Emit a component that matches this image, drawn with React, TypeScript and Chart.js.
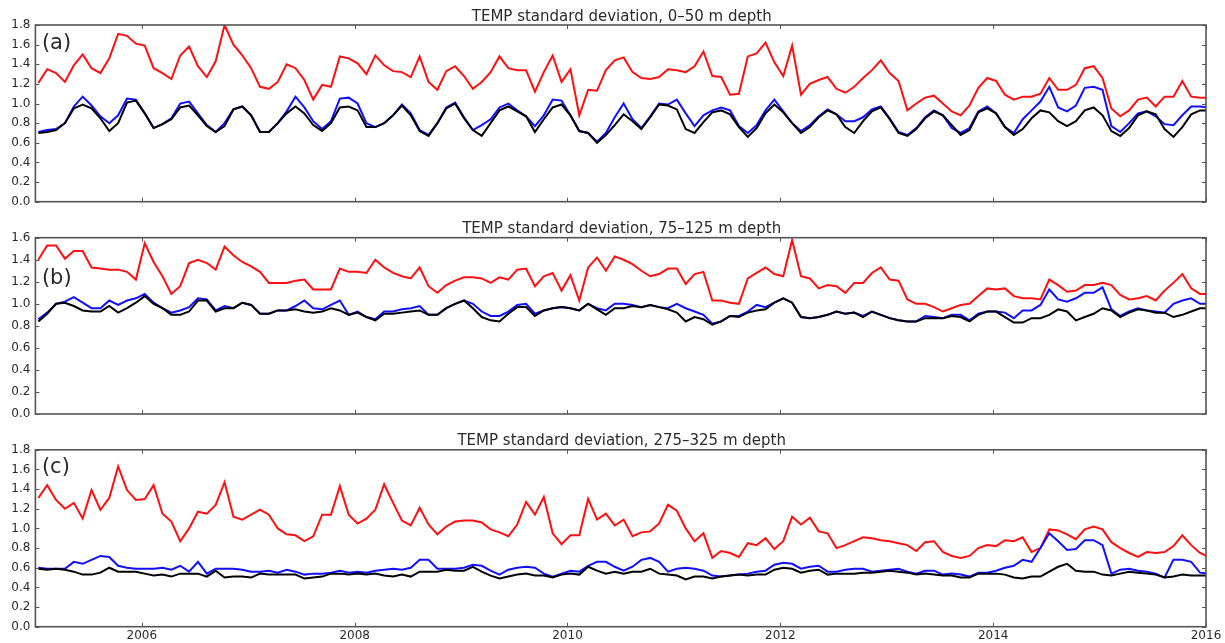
import React, { useEffect, useRef } from "react";
import { Chart, registerables } from "chart.js";

Chart.register(...registerables);

// ---------- data ----------
const START_YEAR = 2005;
const END_YEAR = 2016;
const monthIndex: number[] = Array.from({ length: 133 }, (_, i) => i);
const xTickYears = [2006, 2008, 2010, 2012, 2014, 2016];
const yTicksTall = [0, 0.2, 0.4, 0.6, 0.8, 1.0, 1.2, 1.4, 1.6, 1.8];
const yTicksShort = [0, 0.2, 0.4, 0.6, 0.8, 1.0, 1.2, 1.4, 1.6];

// Panel (a) 0–50 m
const redA = [
  1.21, 1.35, 1.31, 1.22, 1.39, 1.50, 1.36, 1.31, 1.46, 1.71,
  1.69, 1.61, 1.59, 1.36, 1.31, 1.25, 1.49, 1.58, 1.38, 1.27,
  1.43, 1.80, 1.60, 1.49, 1.36, 1.17, 1.15, 1.22, 1.40, 1.36,
  1.24, 1.04, 1.19, 1.17, 1.48, 1.46, 1.41, 1.30, 1.49, 1.39,
  1.33, 1.32, 1.27, 1.48,
  1.22, 1.14, 1.33, 1.38, 1.28, 1.15, 1.22, 1.32, 1.48, 1.36,
  1.34, 1.34, 1.12, 1.32, 1.49, 1.22, 1.35, 0.88, 1.14, 1.13,
  1.34, 1.44, 1.47, 1.32, 1.26, 1.25, 1.27, 1.35, 1.34, 1.32,
  1.38, 1.53, 1.28, 1.27, 1.09, 1.10, 1.48, 1.51, 1.62, 1.42,
  1.28, 1.59, 1.09, 1.20, 1.24,
  1.27, 1.15, 1.11, 1.17, 1.26, 1.34, 1.44, 1.31, 1.23, 0.93,
  1.00, 1.06, 1.08, 1.00, 0.92, 0.88, 0.98, 1.16, 1.26, 1.23,
  1.09, 1.04, 1.07, 1.07, 1.10, 1.26, 1.14, 1.14, 1.19, 1.36,
  1.38, 1.26, 0.95, 0.87, 0.93, 1.04, 1.06, 0.97, 1.07, 1.07,
  1.23, 1.07, 1.06, 1.06,
];
const blueA = [
  0.71, 0.73, 0.74, 0.80, 0.97, 1.07, 0.98, 0.87, 0.80, 0.88,
  1.05, 1.04, 0.90, 0.75, 0.79, 0.85, 1.00, 1.02, 0.90, 0.78,
  0.71, 0.80, 0.94, 0.97, 0.88, 0.71, 0.71, 0.80, 0.92, 1.07,
  0.96, 0.82, 0.74, 0.82, 1.05, 1.06, 1.00, 0.80, 0.76, 0.80,
  0.88, 0.99, 0.90, 0.73,
  0.68, 0.80, 0.96, 1.01, 0.86, 0.73, 0.78, 0.84, 0.96, 1.00,
  0.93, 0.87, 0.77, 0.88, 1.04, 1.03, 0.88, 0.72, 0.70, 0.61,
  0.70, 0.86, 1.00, 0.84, 0.75, 0.87, 1.00, 0.99, 1.04, 0.90,
  0.77, 0.88, 0.93, 0.96, 0.93, 0.77, 0.70, 0.78, 0.93, 1.04,
  0.92, 0.80, 0.72,
  0.78, 0.87, 0.94, 0.89, 0.82, 0.82, 0.86, 0.94, 0.97, 0.85,
  0.71, 0.68, 0.75, 0.86, 0.93, 0.88, 0.75, 0.70, 0.75, 0.92,
  0.97, 0.90, 0.76, 0.70, 0.84, 0.93, 1.02, 1.17, 0.96, 0.92,
  0.98, 1.16, 1.17, 1.14, 0.77, 0.71, 0.80, 0.90, 0.92, 0.87,
  0.79, 0.78, 0.88, 0.97, 0.97, 0.96,
];
const blackA = [
  0.70, 0.71, 0.73, 0.80, 0.95, 0.99, 0.95, 0.85, 0.72, 0.80,
  1.01, 1.03, 0.90, 0.75, 0.79, 0.84, 0.96, 0.98, 0.88, 0.77,
  0.71, 0.77, 0.94, 0.97, 0.88, 0.71, 0.71, 0.80, 0.90, 0.97,
  0.90, 0.78, 0.72, 0.80, 0.96, 0.97, 0.93, 0.76, 0.76, 0.80,
  0.88, 0.98, 0.88, 0.72,
  0.67, 0.80, 0.95, 1.00, 0.85, 0.73, 0.67, 0.80, 0.93, 0.97,
  0.92, 0.87, 0.71, 0.84, 0.96, 0.99, 0.88, 0.72, 0.70, 0.60,
  0.68, 0.78, 0.89, 0.82, 0.74, 0.86, 0.99, 0.98, 0.94, 0.74,
  0.70, 0.81, 0.91, 0.93, 0.89, 0.76, 0.66, 0.75, 0.90, 0.99,
  0.91, 0.80, 0.70,
  0.76, 0.86, 0.93, 0.89, 0.76, 0.70, 0.82, 0.92, 0.96, 0.84,
  0.70, 0.67, 0.74, 0.85, 0.92, 0.88, 0.78, 0.68, 0.73, 0.91,
  0.95, 0.90, 0.76, 0.68, 0.74, 0.85, 0.93, 0.91, 0.82, 0.77,
  0.82, 0.93, 0.96, 0.88, 0.72, 0.67, 0.75, 0.88, 0.92, 0.89,
  0.74, 0.66, 0.76, 0.89, 0.93, 0.93,
];

// Panel (b) 75–125 m
const redB = [
  1.40, 1.53, 1.53, 1.41, 1.48, 1.48, 1.33, 1.32, 1.31, 1.31,
  1.29, 1.22, 1.55, 1.38, 1.25, 1.09, 1.16, 1.37, 1.40, 1.37,
  1.31, 1.52, 1.44, 1.38, 1.34, 1.29, 1.19, 1.19, 1.19, 1.21,
  1.22, 1.13, 1.13, 1.13, 1.32, 1.29, 1.29, 1.28, 1.40, 1.33,
  1.28, 1.25, 1.23, 1.33,
  1.16, 1.10, 1.17, 1.21, 1.24, 1.24, 1.23, 1.19, 1.24, 1.22,
  1.31, 1.32, 1.16, 1.25, 1.28, 1.12, 1.26, 1.03, 1.33, 1.42,
  1.30, 1.43, 1.40, 1.36, 1.30, 1.25, 1.27, 1.32, 1.32, 1.18,
  1.27, 1.29, 1.03, 1.03, 1.01, 1.00, 1.23, 1.28, 1.33, 1.27,
  1.25, 1.58, 1.25,
  1.23, 1.14, 1.17, 1.16, 1.10, 1.19, 1.19, 1.28, 1.33, 1.22,
  1.21, 1.04, 1.00, 1.00, 0.97, 0.93, 0.96, 0.99, 1.00, 1.07,
  1.14, 1.13, 1.14, 1.07, 1.05, 1.05, 1.04, 1.22, 1.17, 1.11,
  1.12, 1.17, 1.17, 1.19, 1.17, 1.08, 1.04, 1.05, 1.07, 1.03,
  1.12, 1.19, 1.27, 1.14, 1.09, 1.09,
];
const blueB = [
  0.86, 0.92, 1.00, 1.02, 1.06, 1.01, 0.96, 0.96, 1.03, 0.99,
  1.03, 1.05, 1.09, 1.01, 0.96, 0.92, 0.94, 0.97, 1.05, 1.04,
  0.94, 0.98, 0.96, 1.01, 0.99, 0.91, 0.91, 0.94, 0.94, 0.98,
  1.03, 0.96, 0.95, 0.99, 1.03, 0.90, 0.93, 0.88, 0.86, 0.93,
  0.93, 0.95, 0.96, 0.98,
  0.90, 0.90, 0.96, 1.00, 1.03, 1.00, 0.93, 0.89, 0.89, 0.93,
  0.99, 1.00, 0.91, 0.94, 0.96, 0.97, 0.96, 0.94, 1.00, 0.96,
  0.94, 1.00, 1.00, 0.99, 0.97, 0.99, 0.97, 0.96, 1.00, 0.96,
  0.93, 0.90, 0.82, 0.84, 0.89, 0.89, 0.93, 0.99, 0.97, 1.01,
  1.05, 1.01, 0.88,
  0.87, 0.88, 0.90, 0.93, 0.91, 0.92, 0.89, 0.93, 0.90, 0.87,
  0.85, 0.84, 0.84, 0.89, 0.88, 0.87, 0.90, 0.90, 0.85, 0.91,
  0.93, 0.93, 0.92, 0.87, 0.94, 0.94, 0.99, 1.13, 1.04, 1.02,
  1.05, 1.10, 1.10, 1.15, 0.95, 0.89, 0.93, 0.96, 0.94, 0.93,
  0.92, 1.00, 1.03, 1.05, 1.00, 1.00,
];
const blackB = [
  0.84, 0.91, 1.00, 1.01, 0.98, 0.94, 0.93, 0.93, 0.98, 0.92,
  0.96, 1.01, 1.07, 1.00, 0.96, 0.90, 0.90, 0.93, 1.03, 1.03,
  0.93, 0.96, 0.96, 1.01, 0.99, 0.91, 0.91, 0.94, 0.94, 0.95,
  0.93, 0.92, 0.93, 0.96, 0.94, 0.90, 0.92, 0.88, 0.85, 0.91,
  0.91, 0.92, 0.93, 0.94,
  0.90, 0.90, 0.96, 1.00, 1.03, 0.96, 0.88, 0.85, 0.84, 0.91,
  0.97, 0.97, 0.89, 0.94, 0.96, 0.97, 0.96, 0.94, 1.00, 0.95,
  0.90, 0.96, 0.96, 0.98, 0.97, 0.99, 0.97, 0.95, 0.92, 0.84,
  0.88, 0.86, 0.81, 0.84, 0.89, 0.88, 0.92, 0.94, 0.95, 1.01,
  1.05, 1.01, 0.88,
  0.87, 0.88, 0.90, 0.93, 0.91, 0.92, 0.88, 0.93, 0.90, 0.87,
  0.85, 0.84, 0.84, 0.87, 0.87, 0.87, 0.89, 0.88, 0.84, 0.90,
  0.93, 0.93, 0.88, 0.83, 0.83, 0.87, 0.87, 0.90, 0.95, 0.93,
  0.85, 0.88, 0.91, 0.96, 0.94, 0.88, 0.92, 0.95, 0.94, 0.92,
  0.92, 0.88, 0.90, 0.93, 0.96, 0.96,
];

// Panel (c) 275–325 m
const redC = [
  1.31, 1.44, 1.29, 1.20, 1.26, 1.10, 1.39, 1.19, 1.31, 1.63,
  1.39, 1.29, 1.30, 1.44, 1.15, 1.07, 0.87, 1.00, 1.17, 1.15,
  1.24, 1.47, 1.12, 1.09, 1.14, 1.19, 1.14, 1.00, 0.94, 0.93,
  0.87, 0.92, 1.14, 1.14, 1.43, 1.14, 1.05, 1.10, 1.19, 1.45,
  1.26, 1.08, 1.03, 1.21,
  1.04, 0.94, 1.02, 1.07, 1.08, 1.08, 1.06, 0.99, 0.96, 0.92,
  1.04, 1.27, 1.14, 1.32, 0.95, 0.84, 0.93, 0.93, 1.30, 1.09,
  1.15, 1.03, 1.09, 0.92, 0.96, 0.97, 1.05, 1.24, 1.18, 1.00,
  0.87, 0.95, 0.70, 0.77, 0.75, 0.71, 0.85, 0.83, 0.90, 0.79,
  0.87, 1.12, 1.04,
  1.11, 0.97, 0.95, 0.80, 0.83, 0.87, 0.91, 0.90, 0.88, 0.87,
  0.85, 0.83, 0.77, 0.86, 0.87, 0.76, 0.72, 0.70, 0.72, 0.80,
  0.83, 0.82, 0.88, 0.87, 0.91, 0.76, 0.80, 0.99, 0.98, 0.94,
  0.89, 0.99, 1.02, 0.99, 0.86, 0.80, 0.75, 0.71, 0.76, 0.75,
  0.76, 0.82, 0.93, 0.83, 0.75, 0.71,
];
const blueC = [
  0.60, 0.59, 0.59, 0.59, 0.66, 0.64, 0.68, 0.72, 0.71, 0.62,
  0.60, 0.59, 0.59, 0.59, 0.60, 0.58, 0.62, 0.56, 0.66, 0.54,
  0.59, 0.59, 0.59, 0.58, 0.56, 0.56, 0.57, 0.55, 0.58, 0.56,
  0.53, 0.54, 0.54, 0.55, 0.57, 0.55, 0.56, 0.55, 0.57, 0.58,
  0.59, 0.58, 0.60, 0.68,
  0.68, 0.59, 0.59, 0.59, 0.60, 0.63, 0.62, 0.57, 0.53, 0.58,
  0.60, 0.61, 0.60, 0.54, 0.51, 0.54, 0.57, 0.56, 0.62, 0.66,
  0.66, 0.61, 0.57, 0.61, 0.68, 0.70, 0.66, 0.56, 0.59, 0.60,
  0.59, 0.57, 0.52, 0.51, 0.52, 0.53, 0.54, 0.56, 0.57, 0.63,
  0.65, 0.64, 0.59,
  0.61, 0.62, 0.56, 0.56, 0.58, 0.59, 0.59, 0.56, 0.57, 0.58,
  0.59, 0.56, 0.54, 0.57, 0.57, 0.53, 0.54, 0.53, 0.51, 0.55,
  0.55, 0.57, 0.60, 0.62, 0.68, 0.66, 0.80, 0.95, 0.87, 0.78,
  0.79, 0.88, 0.88, 0.83, 0.54, 0.58, 0.59, 0.57, 0.56, 0.54,
  0.50, 0.68, 0.68, 0.66, 0.55, 0.54,
];
const blackC = [
  0.59, 0.58, 0.59, 0.58, 0.56, 0.53, 0.53, 0.55, 0.60, 0.56,
  0.56, 0.56, 0.54, 0.52, 0.53, 0.51, 0.54, 0.54, 0.54, 0.51,
  0.57, 0.50, 0.51, 0.51, 0.50, 0.54, 0.53, 0.53, 0.53, 0.53,
  0.49, 0.50, 0.51, 0.54, 0.54, 0.53, 0.54, 0.53, 0.54, 0.52,
  0.51, 0.53, 0.51, 0.56,
  0.56, 0.56, 0.58, 0.57, 0.57, 0.61, 0.56, 0.52, 0.49, 0.51,
  0.53, 0.54, 0.52, 0.52, 0.50, 0.53, 0.54, 0.53, 0.61, 0.57,
  0.54, 0.56, 0.54, 0.56, 0.56, 0.59, 0.54, 0.53, 0.52, 0.48,
  0.51, 0.51, 0.49, 0.51, 0.52, 0.53, 0.52, 0.53, 0.53, 0.58,
  0.60, 0.59, 0.55,
  0.57, 0.58, 0.53, 0.54, 0.54, 0.54, 0.55, 0.55, 0.56, 0.57,
  0.56, 0.55, 0.53, 0.54, 0.53, 0.52, 0.52, 0.50, 0.50, 0.54,
  0.54, 0.54, 0.53, 0.50, 0.49, 0.51, 0.51, 0.56, 0.61, 0.64,
  0.57, 0.56, 0.56, 0.53, 0.52, 0.54, 0.56, 0.55, 0.54, 0.53,
  0.50, 0.51, 0.53, 0.52, 0.52, 0.52,
];

const titles = [
  "TEMP standard deviation, 0\u201350 m depth",
  "TEMP standard deviation, 75\u2013125 m depth",
  "TEMP standard deviation, 275\u2013325 m depth",
];
const panelLabels = ["(a)", "(b)", "(c)"];

// ---------- layout / style ----------
const FONT = '"DejaVu Sans", "Liberation Sans", sans-serif';
const TEXT = "#2a2a2a";
const FRAME = "#555555";

type PanelCfg = {
  top: number;
  height: number;
  padTop: number;
  padBottom: number;
  xAxisH: number;
  showX: boolean;
  yMax: number;
  yTicks: number[];
  red: number[];
  blue: number[];
  black: number[];
  title: string;
  label: string;
  labelY: number;
};

const panels: PanelCfg[] = [
  { top: 0, height: 215, padTop: 25, padBottom: 13.3, xAxisH: 0, showX: false, yMax: 1.8, yTicks: yTicksTall, red: redA, blue: blueA, black: blackA, title: titles[0], label: panelLabels[0], labelY: 44 },
  { top: 215, height: 215, padTop: 22.7, padBottom: 16, xAxisH: 0, showX: false, yMax: 1.6, yTicks: yTicksShort, red: redB, blue: blueB, black: blackB, title: titles[1], label: panelLabels[1], labelY: 278.5 - 215 },
  { top: 430, height: 213, padTop: 19.8, padBottom: 0, xAxisH: 16.3, showX: true, yMax: 1.8, yTicks: yTicksTall, red: redC, blue: blueC, black: blackC, title: titles[2], label: panelLabels[2], labelY: 468 - 430 },
];

const decorPlugin = {
  id: "decor",
  afterDraw(chart: any, _args: any, opts: any) {
    const { ctx, chartArea } = chart;
    const { left, right, top, bottom } = chartArea;
    const xs = chart.scales.x;
    const ys = chart.scales.y;
    ctx.save();
    ctx.strokeStyle = FRAME;
    ctx.lineWidth = 1;
    ctx.beginPath();
    for (const t of ys.ticks) {
      const py = Math.round(ys.getPixelForValue(t.value)) + 0.5;
      ctx.moveTo(left, py);
      ctx.lineTo(left + 4, py);
      ctx.moveTo(right, py);
      ctx.lineTo(right - 4, py);
    }
    for (const t of xs.ticks) {
      const px = Math.round(xs.getPixelForValue(t.value)) + 0.5;
      ctx.moveTo(px, top);
      ctx.lineTo(px, top + 4);
      ctx.moveTo(px, bottom);
      ctx.lineTo(px, bottom - 4);
    }
    ctx.stroke();
    ctx.lineWidth = 1.6;
    ctx.strokeRect(left, top, right - left, bottom - top);

    ctx.fillStyle = TEXT;
    ctx.font = `15px ${FONT}`;
    ctx.textAlign = "center";
    ctx.textBaseline = "alphabetic";
    ctx.fillText(opts.title, (left + right) / 2 + 1, top - 4.5);

    ctx.font = `21px ${FONT}`;
    ctx.textAlign = "left";
    ctx.textBaseline = "middle";
    ctx.fillText(opts.label, left + 6.5, opts.labelY);
    ctx.restore();
  },
};

function Panel({ cfg }: { cfg: PanelCfg }) {
  const ref = useRef<HTMLCanvasElement | null>(null);
  useEffect(() => {
    if (!ref.current) return;
    const xOf = (i: number) => START_YEAR + (i + 0.33) / 12;
    const mk = (vals: number[]) => monthIndex.slice(0, vals.length).map((i) => ({ x: xOf(i), y: vals[i] }));
    const chart = new Chart(ref.current, {
      type: "line",
      data: {
        datasets: [
          { label: "red", data: mk(cfg.red), borderColor: "#ff1010", borderWidth: 2, pointRadius: 0, tension: 0, order: 3 },
          { label: "blue", data: mk(cfg.blue), borderColor: "#1010ff", borderWidth: 2, pointRadius: 0, tension: 0, order: 2 },
          { label: "black", data: mk(cfg.black), borderColor: "#000000", borderWidth: 2, pointRadius: 0, tension: 0, order: 1 },
        ],
      },
      options: {
        responsive: false,
        animation: false,
        devicePixelRatio: 1,
        events: [],
        layout: { padding: { left: 0, right: 19, top: cfg.padTop, bottom: cfg.padBottom } },
        plugins: {
          legend: { display: false },
          tooltip: { enabled: false },
          title: { display: false },
          decor: { title: cfg.title, label: cfg.label, labelY: cfg.labelY },
        } as any,
        scales: {
          x: {
            type: "linear",
            min: START_YEAR,
            max: END_YEAR,
            grid: { display: false, drawTicks: false },
            border: { display: false },
            ticks: {
              display: cfg.showX,
              padding: 2,
              color: TEXT,
              font: { family: FONT, size: 12 },
              autoSkip: false,
              maxRotation: 0,
              callback: (v: any) => String(v),
            },
            afterBuildTicks: (s: any) => {
              s.ticks = xTickYears.map((v) => ({ value: v }));
            },
            afterFit: (s: any) => {
              s.height = cfg.xAxisH;
            },
          },
          y: {
            type: "linear",
            min: 0,
            max: cfg.yMax,
            grid: { display: false, drawTicks: false },
            border: { display: false },
            ticks: {
              padding: 5,
              color: TEXT,
              font: { family: FONT, size: 12 },
              callback: (v: any) => Number(v).toFixed(1),
            },
            afterBuildTicks: (s: any) => {
              s.ticks = cfg.yTicks.map((v) => ({ value: v }));
            },
            afterFit: (s: any) => {
              s.width = 35.4;
            },
          },
        },
      } as any,
      plugins: [decorPlugin],
    });
    return () => chart.destroy();
  }, [cfg]);
  return (
    <canvas
      ref={ref}
      width={1225}
      height={cfg.height}
      style={{ position: "absolute", left: 0, top: cfg.top, width: 1225, height: cfg.height, display: "block" }}
    />
  );
}

export default function App() {
  return (
    <div style={{ position: "fixed", left: 0, top: 0, width: 1225, height: 643, background: "#ffffff", overflow: "hidden" }}>
      {panels.map((p, i) => (
        <Panel key={i} cfg={p} />
      ))}
    </div>
  );
}
